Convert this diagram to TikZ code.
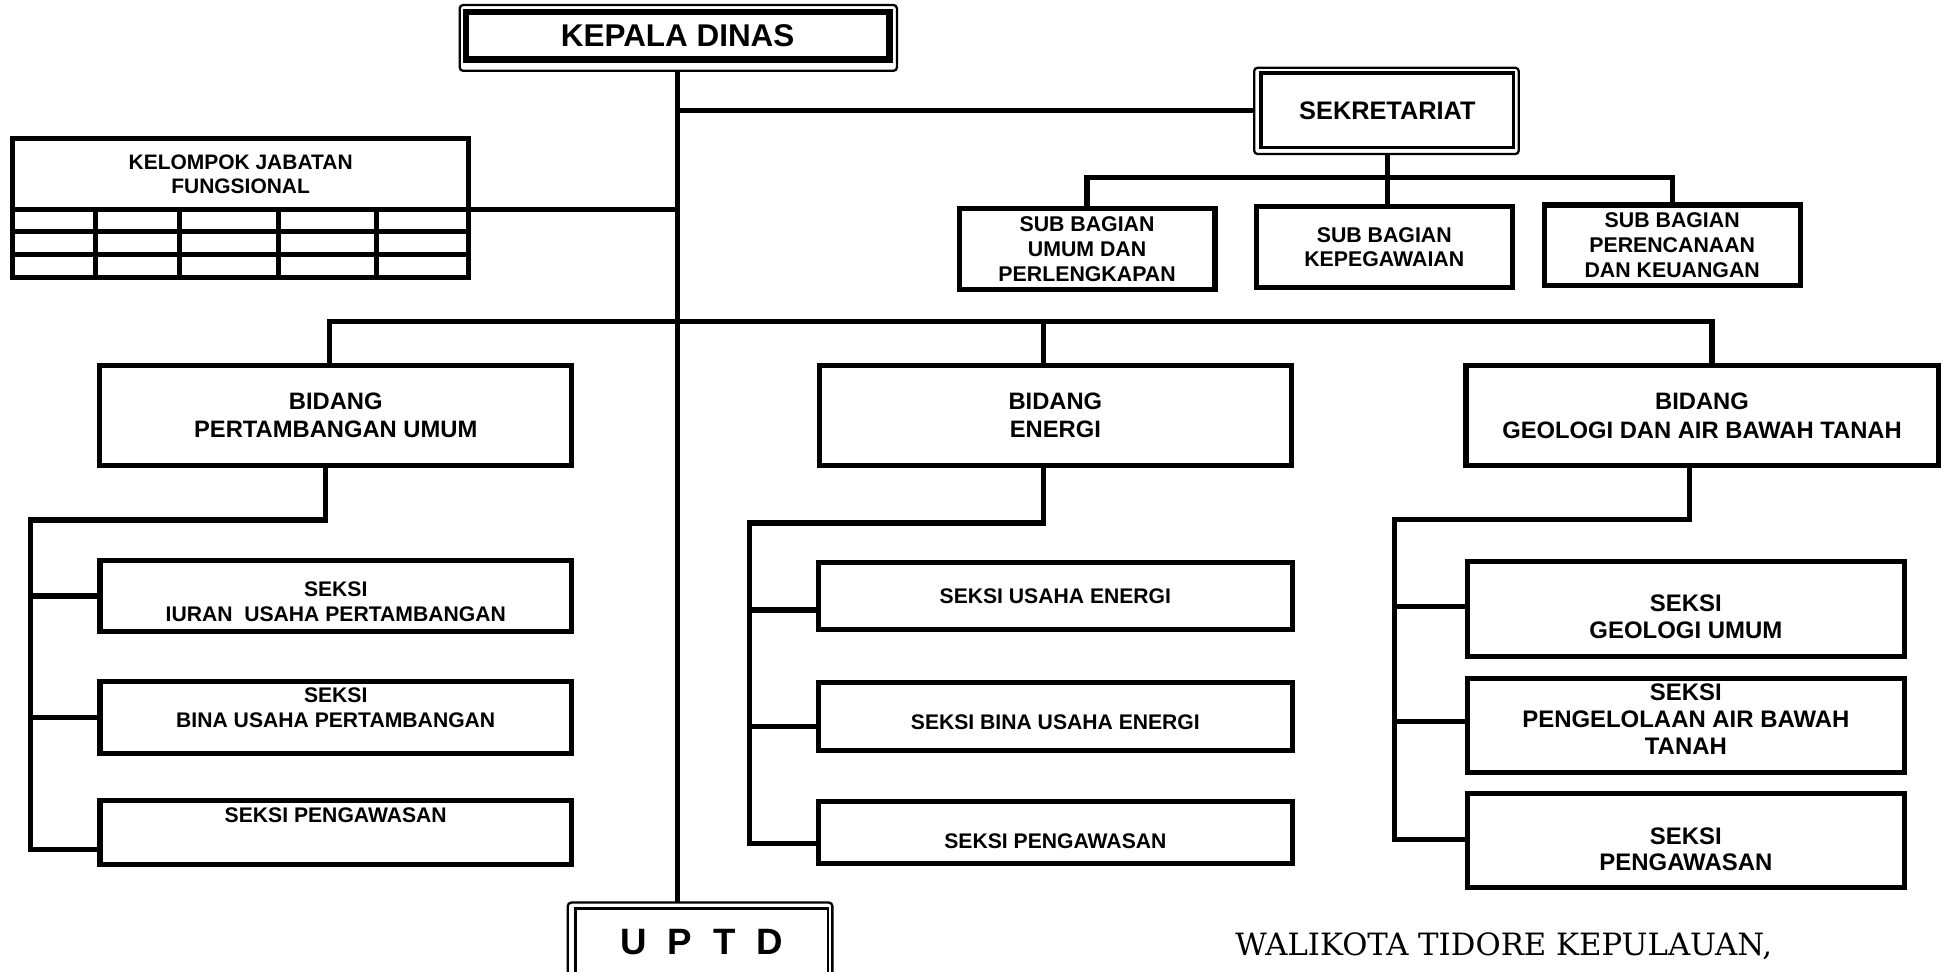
\documentclass[tikz,border=0pt]{standalone}
\usepackage{fontspec}
\setmainfont{Liberation Sans}
\newfontfamily\walifont{DejaVu Serif}
\newcommand{\pxu}{0.025cm}

\begin{document}
\begin{tikzpicture}[x=0.025cm, y=-0.025cm,
                box/.style={rectangle, draw, line width=2.9pt, inner sep=0pt, outer sep=0pt, align=center, font=\bfseries},
                dblframe/.style={draw, line width=1.3pt, rounded corners=2pt},
                conn/.style={draw, line width=3pt},
                txt/.style={align=center, inner sep=0pt, font=\bfseries},
                subbox/.style={box, minimum width=206*\pxu, minimum height=65*\pxu, font=\bfseries\fontsize{12.2}{14.2}\selectfont},
                bidang/.style={box, minimum width=380*\pxu, minimum height=80.5*\pxu, font=\bfseries\fontsize{13.6}{16.4}\selectfont},
                seksikiri/.style={box, minimum width=379.5*\pxu},
                seksitengah/.style={box, minimum width=381*\pxu},
                seksikanan/.style={box, minimum width=352*\pxu},
                kecil/.style={txt, font=\bfseries\fontsize{12.1}{14.2}\selectfont},
                besar/.style={txt, font=\bfseries\fontsize{13.7}{15.3}\selectfont}
            ]
            \useasboundingbox (0,0) rectangle (1568,781.6);
            % pimpinan
            \node[box, line width=3.6pt, minimum width=341*\pxu, minimum height=38.5*\pxu,
                  font=\bfseries\fontsize{18}{20}\selectfont] (kd) at (545.5,28.75) {KEPALA DINAS};
            \draw[dblframe] ([xshift=-5*\pxu,yshift=5.5*\pxu]kd.north west) rectangle ([xshift=6*\pxu,yshift=-9*\pxu]kd.south east);
            \node[box, line width=1.8pt, minimum width=203.5*\pxu, minimum height=60.3*\pxu,
                  font=\bfseries\fontsize{14.5}{16}\selectfont] (sek) at (1116.75,88.85) {SEKRETARIAT};
            \draw[dblframe] ([xshift=-5.5*\pxu,yshift=4.2*\pxu]sek.north west) rectangle ([xshift=4*\pxu,yshift=-5*\pxu]sek.south east);
            \node[box, line width=1.5pt, minimum width=203.5*\pxu, minimum height=54*\pxu,
                  font=\bfseries\fontsize{21}{24}\selectfont] (uptd) at (564.75,758.5) {\spaceskip=12pt U P T D};
            \draw[dblframe] ([xshift=-6*\pxu,yshift=5*\pxu]uptd.north west) rectangle ([xshift=3.5*\pxu,yshift=-6*\pxu]uptd.south east);

            % sub bagian
            \node[subbox] (sb1) at (875,200.5) {SUB BAGIAN\\UMUM DAN\\PERLENGKAPAN};
            \node[subbox] (sb2) at (1114.25,199) {SUB BAGIAN\\KEPEGAWAIAN};
            \node[subbox] (sb3) at (1346,197.5) {SUB BAGIAN\\PERENCANAAN\\DAN KEUANGAN};

            % jabatan fungsional
            \node[box, minimum width=367.4*\pxu, minimum height=56.9*\pxu,
                  font=\bfseries\fontsize{12}{13.8}\selectfont] (kjf) at (193.7,140.25) {KELOMPOK JABATAN\\FUNGSIONAL};
            \draw[line width=2.9pt] (kjf.south west) -- (10,223.4) -- (377.4,223.4) -- (kjf.south east);
            \foreach \y in {186.6,204.6}
                \draw[line width=2.9pt] (10,\y) -- (377.4,\y);
            \foreach \x in {76.7,144.7,223.8,303.2}
                \draw[line width=2.9pt] (\x,168.7) -- (\x,223.4);

            % bidang
            \node[bidang] (pu) at (270.25,334.25) {BIDANG\\PERTAMBANGAN UMUM};
            \node[bidang] (en) at (849.5,334.25) {BIDANG\\ENERGI};
            \node[bidang] (geo) at (1370,334.5) {BIDANG\\GEOLOGI DAN AIR BAWAH TANAH};

            % seksi
            \node[seksikiri, minimum height=56.5*\pxu] (ps1) at (270.25,479.75) {};
            \node[seksikiri, minimum height=58.1*\pxu] (ps2) at (270.25,577.45) {};
            \node[seksikiri, minimum height=51.5*\pxu] (ps3) at (270.25,669.75) {};
            \node[kecil] (ps1t) at ([yshift=-4.75*\pxu]ps1.center) {SEKSI\\IURAN\ \ USAHA PERTAMBANGAN};
            \node[kecil] (ps2t) at ([yshift=8*\pxu]ps2.center) {SEKSI\\BINA USAHA PERTAMBANGAN};
            \node[kecil] (ps3t) at ([yshift=13.75*\pxu]ps3.center) {SEKSI PENGAWASAN};

            \node[seksitengah, minimum height=54*\pxu] (ms1) at (849.5,480) {};
            \node[seksitengah, minimum height=55*\pxu] (ms2) at (849.5,576.5) {};
            \node[seksitengah, minimum height=50*\pxu] (ms3) at (849.5,670) {};
            \node[kecil] (ms1t) at (ms1.center) {SEKSI USAHA ENERGI};
            \node[kecil] (ms2t) at ([yshift=-5*\pxu]ms2.center) {SEKSI BINA USAHA ENERGI};
            \node[kecil] (ms3t) at ([yshift=-7*\pxu]ms3.center) {SEKSI PENGAWASAN};

            \node[seksikanan, minimum height=76.5*\pxu] (gs1) at (1357,490.25) {};
            \node[seksikanan, minimum height=76*\pxu] (gs2) at (1357,584) {};
            \node[seksikanan, minimum height=75*\pxu] (gs3) at (1357,676.5) {};
            \node[besar] (gs1t) at ([yshift=-6*\pxu]gs1.center) {SEKSI\\GEOLOGI UMUM};
            \node[besar] (gs2t) at ([yshift=5*\pxu]gs2.center) {SEKSI\\PENGELOLAAN AIR BAWAH\\TANAH};
            \node[besar] (gs3t) at ([yshift=-7*\pxu]gs3.center) {SEKSI\\PENGAWASAN};

            \node[anchor=base west, inner sep=0pt, font=\walifont\fontsize{17.6}{20}\selectfont] (wali) at (994,769) {WALIKOTA TIDORE KEPULAUAN,};

            % garis
            \draw[conn, shorten <=9*\pxu, shorten >=5*\pxu] (kd.south) -- (kd.south |- uptd.north);
            \draw[conn, shorten >=5.5*\pxu] (kd.south |- sek.west) -- (sek.west);
            \draw[conn] (kjf.south east) -- (kjf.south east -| kd.south);

            \coordinate (sj) at (1116,143);
            \draw[conn, shorten <=5*\pxu] (sek.south) -- (sek.south |- sb2.north);
            \draw[conn] (sb1.north) -- (sb1.north |- sj) -- (sb3.north |- sj) -- (sb3.north);

            \coordinate (b1) at (265,258.5);
            \coordinate (b2) at (840,258.5);
            \coordinate (b3) at (1378,258.5);
            \draw[conn] (b1 |- pu.north) -- (b1) -- (b3) -- (b3 |- geo.north);
            \draw[conn] (b2) -- (b2 |- en.north);

            \coordinate (p1) at (262,418.5);
            \coordinate (p2) at (24.4,418.5);
            \draw[conn] (p1 |- pu.south) -- (p1) -- (p2) -- (24.4,683.5) -- (ps3.west |- 0,683.5);
            \draw[conn] (p2 |- ps1.west) -- (ps1.west);
            \draw[conn] (p2 |- ps2.west) -- (ps2.west);

            \coordinate (e1) at (840,421);
            \coordinate (e2) at (603,421);
            \draw[conn] (e1 |- en.south) -- (e1) -- (e2) -- (603,679) -- (ms3.west |- 0,679);
            \draw[conn] (603,491) -- (ms1.west |- 0,491);
            \draw[conn] (603,584.7) -- (ms2.west |- 0,584.7);

            \coordinate (g1) at (1360,418.3);
            \coordinate (g2) at (1122.5,418.3);
            \draw[conn] (g1 |- geo.south) -- (g1) -- (g2) -- (1122.5,675.6) -- (gs3.west |- 0,675.6);
            \draw[conn] (1122.5,488) -- (gs1.west |- 0,488);
            \draw[conn] (1122.5,580.7) -- (gs2.west |- 0,580.7);
        \end{tikzpicture}
\end{document}
